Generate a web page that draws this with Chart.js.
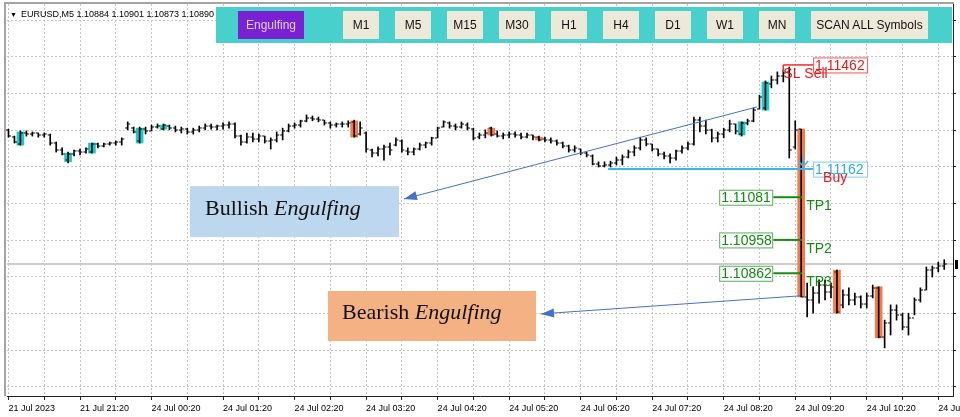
<!DOCTYPE html>
<html>
<head>
<meta charset="utf-8">
<script src="https://cdn.jsdelivr.net/npm/chart.js@4.4.1/dist/chart.umd.min.js"></script>
<style>
  html, body { margin: 0; padding: 0; background: #fff; }
  #wrap { position: relative; width: 960px; height: 417px; font-family: "Liberation Sans", Arial, sans-serif; }
  #hdr { position: absolute; left: 10px; top: 9px; font-size: 9px; color: #000; white-space: pre; }
  #hdr .tri { font-size: 7px; margin-right: 4px; }
  #panel { position: absolute; left: 216px; top: 7px; width: 736px; height: 36px; background: #48d1cc; }
  .btn { position: absolute; top: 4px; width: 36px; height: 28px; line-height: 28px; text-align: center;
         font-size: 12px; background: #ece9d8; color: #111; }
  .btn.on { background: #7a22d2; color: #dcd2f2; }
</style>
</head>
<body>
<div id="wrap">
  <canvas id="chart" width="960" height="417"></canvas>
  <div id="hdr"><span class="tri">▼</span><span id="hdrText"></span></div>
  <div id="panel"></div>
</div>
<script>
// last bars of EURUSD M5, one entry per bar
const opens = [
  1.11275,1.11254,1.11234,1.11266,1.11263,1.11266,1.11260,1.11260,1.11237,1.11217,
  1.11188,1.11206,1.11214,1.11211,1.11211,1.11234,1.11229,1.11234,1.11237,1.11240,
  1.11280,1.11280,1.11243,1.11277,1.11272,1.11283,1.11277,1.11286,1.11280,1.11275,
  1.11277,1.11269,1.11275,1.11280,1.11286,1.11283,1.11286,1.11289,1.11292,1.11257,
  1.11240,1.11254,1.11249,1.11257,1.11243,1.11246,1.11260,1.11272,1.11286,1.11289,
  1.11301,1.11309,1.11306,1.11303,1.11295,1.11289,1.11292,1.11292,1.11298,1.11263,
  1.11266,1.11217,1.11208,1.11220,1.11226,1.11231,1.11243,1.11214,1.11211,1.11220,
  1.11231,1.11237,1.11252,1.11283,1.11295,1.11286,1.11283,1.11289,1.11277,1.11254,
  1.11260,1.11280,1.11263,1.11257,1.11260,1.11263,1.11260,1.11254,1.11260,1.11254,
  1.11249,1.11246,1.11243,1.11237,1.11229,1.11217,1.11220,1.11208,1.11200,1.11177,
  1.11171,1.11174,1.11180,1.11188,1.11197,1.11211,1.11223,1.11246,1.11234,1.11220,
  1.11206,1.11200,1.11194,1.11214,1.11223,1.11234,1.11303,1.11286,1.11275,1.11252,
  1.11263,1.11275,1.11292,1.11263,1.11295,1.11301,1.11335,1.11338,1.11407,1.11419,
  1.11430,1.11442,1.11226,1.11277,1.10794,1.10785,1.10805,1.10828,1.10808,1.10866,
  1.10771,1.10799,1.10785,1.10794,1.10773,1.10797,1.10820,1.10678,1.10719,1.10756,
  1.10742,1.10707,1.10733,1.10785,1.10814,1.10871,1.10877,1.10884
];
const highs = [
  1.11277,1.11257,1.11272,1.11272,1.11269,1.11266,1.11266,1.11263,1.11240,1.11223,
  1.11211,1.11217,1.11220,1.11223,1.11237,1.11237,1.11237,1.11240,1.11243,1.11252,
  1.11298,1.11283,1.11283,1.11283,1.11289,1.11292,1.11292,1.11289,1.11286,1.11283,
  1.11280,1.11280,1.11286,1.11292,1.11292,1.11289,1.11295,1.11298,1.11295,1.11260,
  1.11266,1.11266,1.11263,1.11257,1.11252,1.11269,1.11280,1.11292,1.11295,1.11303,
  1.11318,1.11315,1.11312,1.11303,1.11298,1.11295,1.11298,1.11301,1.11303,1.11298,
  1.11269,1.11220,1.11226,1.11231,1.11237,1.11252,1.11246,1.11223,1.11223,1.11237,
  1.11240,1.11254,1.11283,1.11301,1.11298,1.11292,1.11298,1.11295,1.11280,1.11266,
  1.11275,1.11283,1.11272,1.11266,1.11269,1.11269,1.11266,1.11266,1.11260,1.11257,
  1.11254,1.11252,1.11246,1.11240,1.11231,1.11229,1.11220,1.11211,1.11203,1.11183,
  1.11183,1.11185,1.11197,1.11203,1.11217,1.11229,1.11254,1.11252,1.11234,1.11220,
  1.11211,1.11206,1.11217,1.11229,1.11240,1.11312,1.11312,1.11303,1.11277,1.11269,
  1.11280,1.11303,1.11292,1.11298,1.11306,1.11338,1.11375,1.11416,1.11430,1.11442,
  1.11447,1.11456,1.11301,1.11277,1.10834,1.10823,1.10843,1.10843,1.10834,1.10871,
  1.10814,1.10820,1.10805,1.10797,1.10805,1.10828,1.10823,1.10727,1.10771,1.10771,
  1.10747,1.10747,1.10791,1.10820,1.10880,1.10883,1.10894,1.10901
];
const lows = [
  1.11254,1.11237,1.11231,1.11257,1.11257,1.11254,1.11254,1.11231,1.11211,1.11203,
  1.11180,1.11200,1.11203,1.11208,1.11208,1.11223,1.11226,1.11231,1.11231,1.11231,
  1.11275,1.11266,1.11237,1.11263,1.11272,1.11280,1.11275,1.11275,1.11269,1.11266,
  1.11263,1.11263,1.11269,1.11275,1.11277,1.11275,1.11277,1.11280,1.11252,1.11231,
  1.11237,1.11240,1.11240,1.11237,1.11220,1.11240,1.11246,1.11269,1.11280,1.11283,
  1.11298,1.11301,1.11298,1.11289,1.11280,1.11283,1.11283,1.11283,1.11254,1.11260,
  1.11211,1.11197,1.11200,1.11188,1.11203,1.11229,1.11211,1.11203,1.11203,1.11217,
  1.11223,1.11231,1.11252,1.11283,1.11280,1.11275,1.11280,1.11275,1.11246,1.11249,
  1.11252,1.11257,1.11254,1.11249,1.11252,1.11254,1.11249,1.11252,1.11246,1.11243,
  1.11240,1.11237,1.11231,1.11223,1.11211,1.11211,1.11203,1.11197,1.11174,1.11168,
  1.11168,1.11168,1.11174,1.11174,1.11194,1.11200,1.11217,1.11229,1.11214,1.11200,
  1.11191,1.11180,1.11188,1.11208,1.11217,1.11231,1.11269,1.11263,1.11240,1.11240,
  1.11252,1.11269,1.11263,1.11257,1.11289,1.11298,1.11335,1.11332,1.11396,1.11407,
  1.11413,1.11194,1.11220,1.10794,1.10736,1.10747,1.10776,1.10785,1.10791,1.10747,
  1.10762,1.10771,1.10771,1.10762,1.10762,1.10791,1.10676,1.10647,1.10684,1.10727,
  1.10699,1.10684,1.10742,1.10779,1.10814,1.10851,1.10866,1.10873
];
const closes = [
  1.11257,1.11240,1.11266,1.11263,1.11266,1.11260,1.11263,1.11237,1.11217,1.11206,
  1.11206,1.11214,1.11211,1.11220,1.11234,1.11229,1.11234,1.11237,1.11240,1.11249,
  1.11292,1.11269,1.11277,1.11272,1.11283,1.11286,1.11289,1.11280,1.11275,1.11277,
  1.11269,1.11275,1.11280,1.11286,1.11283,1.11286,1.11289,1.11292,1.11257,1.11240,
  1.11254,1.11249,1.11257,1.11243,1.11246,1.11260,1.11272,1.11286,1.11289,1.11301,
  1.11309,1.11306,1.11303,1.11295,1.11289,1.11292,1.11292,1.11295,1.11257,1.11280,
  1.11220,1.11208,1.11220,1.11226,1.11217,1.11246,1.11217,1.11211,1.11220,1.11231,
  1.11237,1.11252,1.11280,1.11298,1.11286,1.11283,1.11292,1.11280,1.11252,1.11260,
  1.11266,1.11260,1.11257,1.11260,1.11263,1.11260,1.11254,1.11260,1.11254,1.11246,
  1.11246,1.11243,1.11237,1.11229,1.11217,1.11223,1.11208,1.11203,1.11177,1.11171,
  1.11174,1.11180,1.11188,1.11197,1.11211,1.11223,1.11246,1.11234,1.11220,1.11206,
  1.11200,1.11194,1.11214,1.11223,1.11234,1.11303,1.11286,1.11275,1.11252,1.11263,
  1.11275,1.11292,1.11272,1.11295,1.11301,1.11332,1.11369,1.11410,1.11419,1.11430,
  1.11439,1.11217,1.11275,1.10794,1.10785,1.10805,1.10828,1.10808,1.10823,1.10750,
  1.10799,1.10785,1.10794,1.10773,1.10797,1.10820,1.10678,1.10719,1.10756,1.10742,
  1.10707,1.10733,1.10785,1.10814,1.10871,1.10877,1.10883,1.10890
];

// engulfing highlights (bar index, body top, body bottom)
const bullIdx = [2, 10, 14, 22, 26, 123, 127];
const bullTop = [1.11269, 1.11208, 1.11237, 1.11280, 1.11289, 1.11298, 1.11413];
const bullBottom = [1.11231, 1.11183, 1.11208, 1.11237, 1.11277, 1.11260, 1.11332];
const bearIdx = [58, 81, 89, 133, 139, 146];
const bearTop = [1.11301, 1.11280, 1.11254, 1.11277, 1.10871, 1.10823];
const bearBottom = [1.11254, 1.11260, 1.11246, 1.10794, 1.10747, 1.10676];

// time axis
const xLabelIdx = [0, 12, 24, 36, 48, 60, 72, 84, 96, 108, 120, 132, 144, 156];
const xLabels = ['21 Jul 2023', '21 Jul 21:20', '24 Jul 00:20', '24 Jul 01:20', '24 Jul 02:20',
  '24 Jul 03:20', '24 Jul 04:20', '24 Jul 05:20', '24 Jul 06:20', '24 Jul 07:20',
  '24 Jul 08:20', '24 Jul 09:20', '24 Jul 10:20', '24 Jul 11:20'];

// trade levels
const bidPrice = 1.10890;
const slPrice = 1.11462;
const buyPrice = 1.11162;
const tpNames = ['TP1', 'TP2', 'TP3'];
const tpPrices = [1.11081, 1.10958, 1.10862];

// annotation anchors in bar index / price
const slFrom = 130, buyFrom = 100.6, levelBoxAt = 135;
const tpBoxEnd = 128.3, tpLineEnd = 133.15, levelBar = 133;
const bullNote = [30.45, 65.52, 1.11113, 1.10966];
const bearNote = [53.61, 88.51, 1.10811, 1.10667];
const bullArrow = [125.6, 1.11341, 66.36, 1.11076];
const bearArrow = [132.8, 1.10797, 89.35, 1.10745];

const buttons = ['Engulfing', 'M1', 'M5', 'M15', 'M30', 'H1', 'H4', 'D1', 'W1', 'MN', 'SCAN ALL Symbols'];

/* -------- header + button bar -------- */
const last = opens.length - 1;
document.getElementById('hdrText').textContent = 'EURUSD,M5 ' +
  [opens[last], highs[last], lows[last], closes[last]].map(v => v.toFixed(5)).join(' ');

const panel = document.getElementById('panel');
buttons.forEach((b, k) => {
  const d = document.createElement('div');
  d.className = 'btn' + (k === 0 ? ' on' : '');
  d.textContent = b;
  if (k === 0) { d.style.left = '22px'; d.style.width = '66px'; }
  else if (k === buttons.length - 1) { d.style.left = (127 + (k - 1) * 52) + 'px'; d.style.width = '117px'; }
  else d.style.left = (127 + (k - 1) * 52) + 'px';
  panel.appendChild(d);
});

/* -------- chart -------- */
const SANS = '"Liberation Sans", Arial, sans-serif';
const SERIF = '"Liberation Serif", "Times New Roman", serif';
Chart.defaults.font.family = SANS;

const px = (c, v) => c.scales.x.getPixelForValue(v);
const py = (c, v) => c.scales.y.getPixelForValue(v);

function seg(ctx, x1, y1, x2, y2, color, w) {
  ctx.strokeStyle = color; ctx.lineWidth = w;
  ctx.beginPath(); ctx.moveTo(x1, y1); ctx.lineTo(x2, y2); ctx.stroke();
}

function priceBox(ctx, left, y, w, price, border, color) {
  ctx.fillStyle = '#fff';
  ctx.fillRect(left, y - 7.5, w, 16);
  ctx.strokeStyle = border; ctx.lineWidth = 1;
  ctx.strokeRect(left + 0.5, y - 7, w - 1, 15);
  ctx.fillStyle = color;
  ctx.fillText(price.toFixed(5), left + 2, y + 1);
}

function arrow(c, a) {
  const ctx = c.ctx;
  const x1 = px(c, a[0]), y1 = py(c, a[1]), x2 = px(c, a[2]), y2 = py(c, a[3]);
  seg(ctx, x1, y1, x2, y2, '#4472c4', 1);
  const ang = Math.atan2(y2 - y1, x2 - x1), len = 13, half = 4.5;
  ctx.fillStyle = '#4472c4';
  ctx.beginPath();
  ctx.moveTo(x2, y2);
  ctx.lineTo(x2 - len * Math.cos(ang) + half * Math.sin(ang), y2 - len * Math.sin(ang) - half * Math.cos(ang));
  ctx.lineTo(x2 - len * Math.cos(ang) - half * Math.sin(ang), y2 - len * Math.sin(ang) + half * Math.cos(ang));
  ctx.closePath(); ctx.fill();
}

function note(c, n, fill, word, dx, dy) {
  const ctx = c.ctx;
  const x0 = px(c, n[0]), x1 = px(c, n[1]), y0 = py(c, n[2]), y1 = py(c, n[3]);
  ctx.fillStyle = fill;
  ctx.fillRect(x0, y0, x1 - x0, y1 - y0);
  ctx.fillStyle = '#111';
  ctx.textBaseline = 'alphabetic';
  ctx.font = '22px ' + SERIF;
  ctx.fillText(word + ' ', x0 + dx, y0 + dy);
  const w = ctx.measureText(word + ' ').width;
  ctx.font = 'italic 22px ' + SERIF;
  ctx.fillText('Engulfing', x0 + dx + w, y0 + dy);
}

const mt4 = {
  id: 'mt4',
  beforeDatasetsDraw(c) {
    const {ctx, chartArea: a} = c;
    const y = Math.round(py(c, bidPrice));
    ctx.save();
    ctx.fillStyle = '#cccccc';
    ctx.fillRect(a.left, y - 1, a.right - a.left, 2);
    ctx.restore();
  },
  afterDatasetsDraw(c) {
    const ctx = c.ctx;
    ctx.save();
    // open / close ticks of each bar
    ctx.fillStyle = '#000';
    opens.forEach((o, i) => {
      const x = px(c, i);
      ctx.fillRect(x - 2.5, Math.round(py(c, o)) - 0.5, 2, 1);
      ctx.fillRect(x + 0.5, Math.round(py(c, closes[i])) - 0.5, 2, 1);
    });

    arrow(c, bullArrow);
    arrow(c, bearArrow);
    note(c, bullNote, '#bdd7ee', 'Bullish', 15, 29);
    note(c, bearNote, '#f4b183', 'Bearish', 14, 28);

    ctx.font = '14px ' + SANS;
    ctx.textBaseline = 'middle';
    const boxX = px(c, levelBoxAt);

    // stop loss
    const slY = py(c, slPrice);
    const slX = px(c, slFrom);
    seg(ctx, slX, slY, boxX, slY, '#ee2a2a', 1.5);
    seg(ctx, slX, slY, slX, slY + 7, '#ee2a2a', 1.5);
    priceBox(ctx, boxX, slY, 55, slPrice, '#ff5050', '#e31b1b');
    ctx.fillStyle = '#e31b1b';
    ctx.fillText('SL Sell', slX, slY + 9);

    // entry
    const bY = py(c, buyPrice);
    seg(ctx, px(c, buyFrom), bY, boxX, bY, '#38b6ec', 2);
    priceBox(ctx, boxX, bY, 55, buyPrice, '#7ccdf2', '#2ba9e2');
    const ax = px(c, levelBar) + 2;
    seg(ctx, ax, bY - 14, ax, bY - 3, '#38b6ec', 1.5);
    ctx.beginPath();
    ctx.moveTo(ax - 5, bY - 8); ctx.lineTo(ax, bY - 3); ctx.lineTo(ax + 5, bY - 8);
    ctx.stroke();
    ctx.fillStyle = '#e31b1b';
    ctx.fillText('Buy', boxX + 10, bY + 9);

    // take profits
    const tpRight = px(c, tpBoxEnd);
    tpPrices.forEach((p, k) => {
      const ty = py(c, p);
      seg(ctx, tpRight, ty, px(c, tpLineEnd), ty, '#178a17', 2);
      priceBox(ctx, tpRight - 54, ty, 54, p, '#55b055', '#138a13');
      ctx.fillStyle = '#138a13';
      ctx.fillText(tpNames[k], px(c, levelBar) + 5, ty + 9);
    });
    ctx.restore();
  },
  afterDraw(c) {
    const {ctx, chartArea: a} = c;
    ctx.save();
    ctx.fillStyle = '#a4a4a4';
    ctx.fillRect(4, 2, 2, a.bottom - 2);
    ctx.fillRect(4, 2, a.right - 3, 2);
    ctx.fillStyle = '#000';
    ctx.fillRect(a.right + 2, Math.round(py(c, bidPrice)) - 4, 3, 9);
    ctx.restore();
  }
};

const bars = opens.map((o, i) => ({x: i, y: [lows[i], highs[i]]}));

new Chart(document.getElementById('chart'), {
  type: 'bar',
  data: {
    datasets: [
      {
        label: 'EURUSD,M5',
        data: bars,
        backgroundColor: '#000',
        barThickness: 1,
        grouped: false,
        order: 1
      },
      {
        label: 'Bullish Engulfing',
        data: bullIdx.map((v, k) => ({x: v, y: [bullBottom[k], bullTop[k]]})),
        backgroundColor: '#1fc9c9',
        barThickness: 7,
        grouped: false,
        order: 2
      },
      {
        label: 'Bearish Engulfing',
        data: bearIdx.map((v, k) => ({x: v, y: [bearBottom[k], bearTop[k]]})),
        backgroundColor: '#f47a4c',
        barThickness: 7,
        grouped: false,
        order: 2
      }
    ]
  },
  options: {
    responsive: false,
    animation: false,
    layout: {padding: {left: 7, top: 4, right: 0, bottom: 0}},
    plugins: {legend: {display: false}, tooltip: {enabled: false}},
    scales: {
      x: {
        type: 'linear',
        min: -0.25,
        max: 158.47,
        offset: false,
        afterBuildTicks: s => {
          const t = [];
          for (let v = 0; v <= 156; v += 6) t.push({value: v});
          s.ticks = t;
        },
        afterFit: s => { s.height = 21; s.paddingLeft = 0; s.paddingRight = 0; },
        grid: {offset: false, color: '#c4c4c4', drawTicks: true, tickLength: 4, tickColor: '#222'},
        border: {color: '#222', dash: [2, 2]},
        ticks: {
          align: 'start', autoSkip: false, maxRotation: 0, padding: 3,
          color: '#000', font: {size: 9},
          callback: v => {
            const k = xLabelIdx.indexOf(v);
            return k >= 0 ? xLabels[k] : '';
          }
        }
      },
      y: {
        position: 'right',
        min: 1.105085,
        max: 1.116375,
        afterBuildTicks: s => {
          // grid every 36.7 px, as on the terminal
          const t = [];
          for (let k = 10; k >= 0; k--) t.push({value: 1.115905 - k * 0.001056});
          s.ticks = t;
        },
        afterFit: s => { s.width = 7; s.paddingTop = 0; s.paddingBottom = 0; },
        grid: {color: '#c4c4c4', drawTicks: true, tickLength: 3, tickColor: '#222'},
        border: {color: '#222', dash: [2, 2]},
        ticks: {display: false}
      }
    }
  },
  plugins: [mt4]
});
</script>
</body>
</html>
